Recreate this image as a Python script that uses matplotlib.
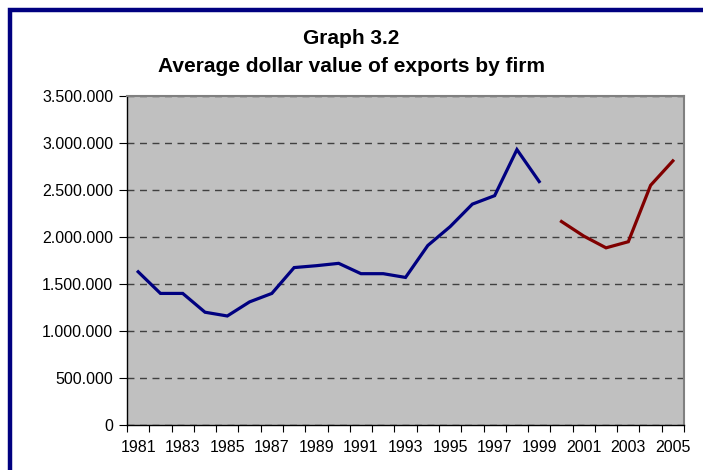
import numpy as np
import matplotlib
matplotlib.use("Agg")
import matplotlib.pyplot as plt
from matplotlib.patches import Rectangle

plt.rcParams['font.family'] = ['Liberation Sans', 'DejaVu Sans']

years = list(range(1981, 2006))
first_years = list(range(1981, 2000))
first_values = [1630000, 1400000, 1400000, 1200000, 1160000, 1310000, 1400000,
                1675000, 1695000, 1720000, 1610000, 1610000, 1570000, 1910000,
                2110000, 2350000, 2440000, 2930000, 2590000]
second_years = list(range(2000, 2006))
second_values = [2165000, 2010000, 1885000, 1950000, 2550000, 2810000]
yticks = [0, 500000, 1000000, 1500000, 2000000, 2500000, 3000000, 3500000]

fig = plt.figure(figsize=(7.03, 4.70), dpi=100)
ax = fig.add_axes([0.1807, 0.0957, 0.7923, 0.7000])

# outer frame (only left and top visible in the original)
fig.patches.append(Rectangle((10 / 703, -0.1), 1.2, (460 - (-47)) / 470, transform=fig.transFigure,
                             fill=False, edgecolor='#000080', linewidth=3.2, clip_on=False))

ax.set_facecolor('#C0C0C0')

idx1 = [years.index(y) for y in first_years]
idx2 = [years.index(y) for y in second_years]
ax.plot(idx1, first_values, color='#000080', linewidth=2.3, solid_joinstyle='miter')
ax.plot(idx2, second_values, color='#800000', linewidth=2.3, solid_joinstyle='miter')

ax.set_xlim(-0.5, len(years) - 0.5)
ax.set_ylim(0, 3500000)

ax.set_yticks(yticks)
ax.set_yticklabels(['{:,}'.format(v).replace(',', '.') for v in yticks], fontsize=11.5)
ax.yaxis.grid(True, linestyle=(0, (5, 4)), color='#404040', linewidth=1.0)
ax.set_axisbelow(True)

ax.set_xticks(np.arange(-0.5, len(years), 1.0))
ax.set_xticklabels([])
ax.set_xticks(range(0, len(years), 2), minor=True)
ax.set_xticklabels([str(y) for y in years[::2]], minor=True, fontsize=11.5)
ax.tick_params(axis='x', which='minor', length=0, pad=11)
ax.tick_params(axis='x', which='major', length=5, direction='out', color='#000000')
ax.tick_params(axis='y', length=6, direction='out', pad=4)

for side in ['top', 'right']:
    ax.spines[side].set_color('#808080')
    ax.spines[side].set_linewidth(1.5)
for side in ['left', 'bottom']:
    ax.spines[side].set_color('#000000')
    ax.spines[side].set_linewidth(1.0)

fig.text(0.5, 1 - 38 / 470, 'Graph 3.2', ha='center', va='center',
         fontsize=15, fontweight='bold')
fig.text(0.5, 1 - 67 / 470, 'Average dollar value of exports by firm',
         ha='center', va='center', fontsize=15, fontweight='bold')

fig.savefig('out.png', dpi=100)
